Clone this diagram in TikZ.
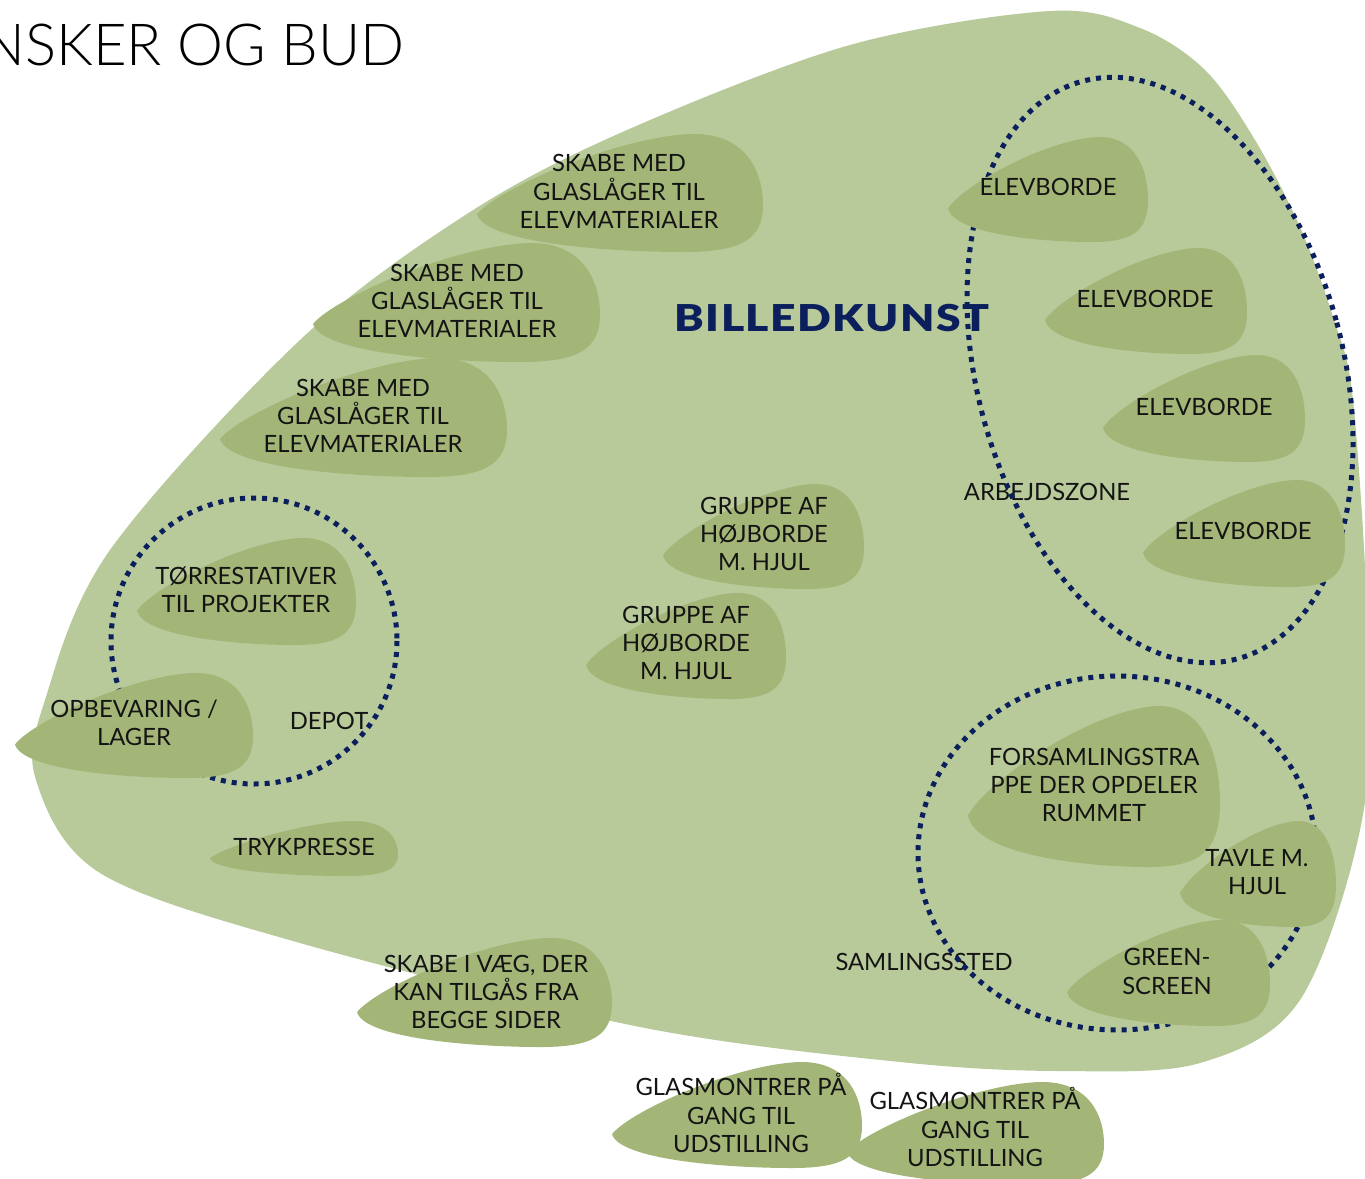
\documentclass[tikz,border=0pt]{standalone}
\usepackage{fontspec}
\setmainfont{Lato}
\newfontfamily\titlefont{Lato Light}
\newfontfamily\headfont{Lato Black}[LetterSpace=4, FakeStretch=1.2]
\definecolor{blobgreen}{HTML}{B8C99A}
\definecolor{leafgreen}{HTML}{A3B677}
\definecolor{navy}{HTML}{0A1F5C}
\definecolor{ink}{HTML}{141414}
\tikzset{
  leaftext/.style={align=center, text=ink, font=\fontsize{23.8}{28.3}\selectfont, inner sep=0pt},
  zonetext/.style={text=ink, font=\fontsize{23.8}{28.3}\selectfont, inner sep=0pt},
  zone/.style={draw=navy, line width=5pt, dash pattern=on 5pt off 6pt},
}
\newcommand{\leafblob}[4]{%
  \begin{scope}[shift={(#1,#2)}, xscale=#3, yscale=#4]
    \fill[leafgreen] (0,0.68) .. controls (0.08,0.45) and (0.5,0.02) .. (0.75,0)
      .. controls (0.95,-0.01) and (1,0.35) .. (1,0.6)
      .. controls (1,0.9) and (0.92,1) .. (0.72,1)
      .. controls (0.45,1) and (0.03,0.92) .. (0,0.68) -- cycle;
  \end{scope}}
\begin{document}
\begin{tikzpicture}[x=1pt,y=-1pt]
\useasboundingbox (0,0) rectangle (1365,1178);
% big area
\fill[blobgreen] plot[smooth cycle, tension=0.55] coordinates {
  (1050,11) (1140,28) (1205,70) (1255,140) (1300,227) (1333,317) (1353,400)
  (1368,640) (1362,820) (1300,1000) (1200,1063) (1060,1071) (900,1062)
  (640,1027) (300,943) (100,873) (36,780) (45,700) (110,550) (300,340)
  (470,212) (627,130) (850,45)};
% title
\node[anchor=base east, inner sep=0pt, font=\titlefont\fontsize{58}{60}\selectfont, text=black] (title) at (405,65) {NSKER OG BUD};
% free labels
\node[text=navy, inner sep=0pt, font=\headfont\fontsize{37}{40}\selectfont] (billed) at (832,318) {BILLEDKUNST};
\node[zonetext] (depot) at (329,721) {DEPOT};
\node[zonetext] (arb) at (1047,492) {ARBEJDSZONE};
\node[zonetext] (saml) at (924,962) {SAMLINGSSTED};
% zones
\draw[zone] (254,641) circle [radius=143];
\draw[zone, rotate around={15:(1160,370)}] (1160,370) ellipse [x radius=183, y radius=299];
\draw[zone] (1117,853) ellipse [x radius=199, y radius=177];
% leaves
\leafblob{477}{134}{286}{118}
\leafblob{313}{243}{287}{119}
\leafblob{220}{358}{287}{119}
\leafblob{948}{137}{200}{105}
\leafblob{1045}{248}{202}{106}
\leafblob{1103}{355}{202}{107}
\leafblob{1143}{480}{202}{107}
\leafblob{663}{484}{201}{105}
\leafblob{586}{593}{200}{106}
\leafblob{137}{538}{219}{107}
\leafblob{15}{673}{238}{105}
\leafblob{210}{821}{188}{55}
\leafblob{968}{706}{252}{161}
\leafblob{1180}{821}{156}{106}
\leafblob{1067}{920}{203}{106}
\leafblob{357}{938}{255}{109}
\leafblob{612}{1062}{250}{106}
\leafblob{847}{1082}{257}{103}
% leaf texts
\node[leaftext] (s1) at (619,191.5) {SKABE MED\\GLASLÅGER TIL\\ELEVMATERIALER};
\node[leaftext] (s2) at (457,301) {SKABE MED\\GLASLÅGER TIL\\ELEVMATERIALER};
\node[leaftext] (s3) at (363,416) {SKABE MED\\GLASLÅGER TIL\\ELEVMATERIALER};
\node[leaftext] (e1) at (1048,187) {ELEVBORDE};
\node[leaftext] (e2) at (1145,299) {ELEVBORDE};
\node[leaftext] (e3) at (1204,407) {ELEVBORDE};
\node[leaftext] (e4) at (1243,531) {ELEVBORDE};
\node[leaftext] (g1) at (764,534) {GRUPPE AF\\HØJBORDE\\M. HJUL};
\node[leaftext] (g2) at (686,643) {GRUPPE AF\\HØJBORDE\\M. HJUL};
\node[leaftext] (t1) at (246,589.5) {TØRRESTATIVER\\TIL PROJEKTER};
\node[leaftext] (o1) at (134,722.5) {OPBEVARING /\\LAGER};
\node[leaftext] (tr) at (304,847) {TRYKPRESSE};
\node[leaftext] (fo) at (1094,785) {FORSAMLINGSTRA\\PPE DER OPDELER\\RUMMET};
\node[leaftext] (ta) at (1257,872) {TAVLE M.\\HJUL};
\node[leaftext] (gr) at (1167,971.5) {GREEN-\\SCREEN};
\node[leaftext] (sv) at (486,992) {SKABE I VÆG, DER\\KAN TILGÅS FRA\\BEGGE SIDER};
\node[leaftext] (gm1) at (741,1113) {GLASMONTRER PÅ\\GANG TIL\\UDSTILLING};
\node[leaftext] (gm2) at (975,1127) {GLASMONTRER PÅ\\GANG TIL\\UDSTILLING};
\end{tikzpicture}
\end{document}
